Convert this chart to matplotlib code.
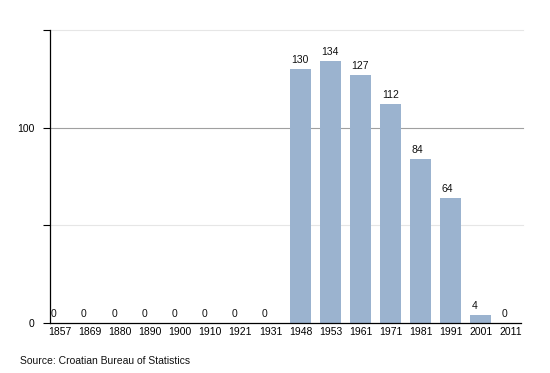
import matplotlib.pyplot as plt

years = ["1857", "1869", "1880", "1890", "1900", "1910", "1921", "1931",
         "1948", "1953", "1961", "1971", "1981", "1991", "2001", "2011"]
population = [0, 0, 0, 0, 0, 0, 0, 0, 130, 134, 127, 112, 84, 64, 4, 0]

plt.rcParams["font.family"] = ["Liberation Sans", "DejaVu Sans"]

fig = plt.figure(figsize=(5.5, 3.73), dpi=100)
ax = fig.add_axes([50 / 550, 1 - 323 / 373, 471 / 550, 293 / 373])

x = list(range(len(years)))
bar_w = 0.7
ax.bar(x, population, width=bar_w, color="#9bb3cf", zorder=2)

# value labels sit on the left edge of each bar
for xi, v in zip(x, population):
    ax.text(xi - bar_w / 2 + 0.05, v + 2, str(v), ha="left", va="bottom",
            fontsize=7.5, color="#111111")

ax.set_xlim(-1 / 3, len(years) - 2 / 3)
ax.set_ylim(0, 150)

# gridlines run a bit past the x axis end
for yv, c in [(100, "#a0a0a0"), (50, "#e6e6e6"), (150, "#e6e6e6")]:
    ax.plot([-1 / 3, len(years) - 0.6], [yv, yv], color=c, linewidth=0.8,
            zorder=1, clip_on=False)

ax.set_yticks([0, 50, 100, 150])
ax.set_yticklabels(["0", "", "100", ""])
ax.tick_params(axis="y", length=5, width=0.8, labelsize=7.5, pad=6)
ax.set_xticks(x)
ax.set_xticklabels(years)
ax.tick_params(axis="x", length=0, labelsize=7.5, pad=3)

for side in ["top", "right"]:
    ax.spines[side].set_visible(False)
ax.spines["left"].set_linewidth(0.9)
ax.spines["bottom"].set_linewidth(0.9)

fig.text(20 / 550, 1 - 364 / 373, "Source: Croatian Bureau of Statistics",
         fontsize=7.5, color="#111111")

fig.savefig("out.png", dpi=100)
